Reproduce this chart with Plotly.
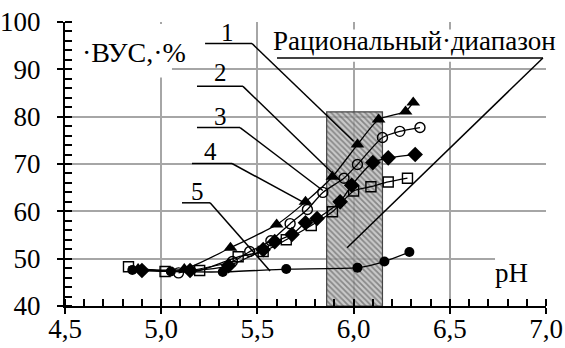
import plotly.graph_objects as go

# ---- data ----
ph_1 = [4.88, 5.12, 5.36, 5.60, 5.75, 5.89, 6.02, 6.13, 6.27, 6.31]
vus_1 = [47.8, 47.8, 52.3, 57.2, 62.0, 67.3, 74.1, 79.4, 81.1, 83.0]

ph_2 = [5.09, 5.37, 5.46, 5.57, 5.67, 5.76, 5.84, 5.95, 6.02, 6.15, 6.24, 6.345]
vus_2 = [47.0, 49.4, 51.5, 53.8, 57.4, 60.4, 64.0, 67.0, 69.9, 75.6, 76.9, 77.7]

ph_3 = [4.90, 5.15, 5.35, 5.53, 5.59, 5.68, 5.75, 5.81, 5.93, 5.99, 6.10, 6.18, 6.32]
vus_3 = [47.5, 47.5, 48.5, 51.9, 53.6, 55.1, 57.6, 58.5, 62.0, 65.5, 70.3, 71.3, 72.0]

ph_4 = [4.83, 5.02, 5.20, 5.40, 5.53, 5.65, 5.78, 5.89, 6.00, 6.09, 6.18, 6.28]
vus_4 = [48.3, 47.3, 47.5, 50.4, 51.5, 54.0, 57.0, 59.9, 64.3, 65.2, 66.2, 67.0]

ph_5 = [4.85, 5.05, 5.32, 5.65, 6.02, 6.16, 6.29]
vus_5 = [47.6, 47.3, 47.2, 47.8, 48.1, 49.4, 51.4]

range_ph = [5.86, 6.15]      # rational pH range
range_top = 81.0

x_ticks = [4.5, 5.0, 5.5, 6.0, 6.5, 7.0]
x_labels = ["4,5", "5,0", "5,5", "6,0", "6,5", "7,0"]
y_ticks = [40, 50, 60, 70, 80, 90, 100]
y_labels = ["40", "50", "60", "70", "80", "90", "100"]

series_names = ["1", "2", "3", "4", "5"]

FONT = "Liberation Serif"

fig = go.Figure()

styles = [
    dict(symbol="triangle-up", size=12, color="black"),
    dict(symbol="circle-open", size=10, color="black", line=dict(width=1.4, color="black")),
    dict(symbol="diamond", size=12, color="black"),
    dict(symbol="square-open", size=10, color="black", line=dict(width=1.4, color="black")),
    dict(symbol="circle", size=10, color="black"),
]
data = [(ph_1, vus_1), (ph_2, vus_2), (ph_3, vus_3), (ph_4, vus_4), (ph_5, vus_5)]
for (xs, ys), st, nm in zip(data, styles, series_names):
    fig.add_trace(go.Scatter(
        x=xs, y=ys, name=nm, mode="lines+markers",
        line=dict(color="black", width=1.3, shape="spline", smoothing=0.6),
        marker=st, hoverinfo="skip", showlegend=False, cliponaxis=False))

# hatched rational range drawn over the data
fig.add_trace(go.Bar(
    x=[(range_ph[0] + range_ph[1]) / 2], y=[range_top - 40], base=[40],
    width=[range_ph[1] - range_ph[0]],
    marker=dict(color="rgba(165,165,165,0.72)",
                line=dict(color="#444444", width=1.2),
                pattern=dict(shape="\\", size=4, solidity=0.45,
                             fgcolor="rgba(55,55,55,0.9)",
                             bgcolor="rgba(180,180,180,0.72)")),
    hoverinfo="skip", showlegend=False))

# dummy trace for the inner half of the major ticks
fig.add_trace(go.Scatter(x=[None], y=[None], xaxis="x2", yaxis="y2",
                         showlegend=False, hoverinfo="skip"))

shapes = []
# white boxes behind the text (cover grid)
for x0, x1, y0, y1 in [(4.5, 5.056, 88.3, 99.6), (5.566, 6.995, 91.6, 98.4),
                       (6.735, 7.01, 43.1, 50.6)]:
    shapes.append(dict(type="rect", xref="x", yref="y", x0=x0, x1=x1, y0=y0, y1=y1,
                       fillcolor="white", line=dict(width=0), layer="between"))

line_style = dict(color="black", width=1.5)
leaders = [
    # (underline x0, x1, y, leader end x, y)
    (5.228, 5.472, 95.45, 6.00, 74.8),
    (5.186, 5.425, 86.4, 5.93, 66.5),
    (5.186, 5.410, 77.7, 5.84, 64.4),
    (5.160, 5.368, 70.1, 5.745, 61.8),
    (5.108, 5.254, 61.8, 5.566, 47.4),
]
for x0, x1, y, ex, ey in leaders:
    shapes.append(dict(type="line", xref="x", yref="y", x0=x0, x1=x1, y0=y, y1=y, line=line_style))
    shapes.append(dict(type="line", xref="x", yref="y", x0=x1, x1=ex, y0=y, y1=ey, line=line_style))
shapes.append(dict(type="line", xref="x", yref="y", x0=5.602, x1=6.984, y0=92.4, y1=92.4, line=line_style))
shapes.append(dict(type="line", xref="x", yref="y", x0=6.984, x1=5.966, y0=92.4, y1=52.3, line=line_style))

annotations = []
label_pos = [(5.347, 97.8), (5.306, 89.3), (5.306, 80.0), (5.254, 72.6), (5.19, 64.2)]
for nm, (lx, ly) in zip(series_names, label_pos):
    annotations.append(dict(x=lx, y=ly, xref="x", yref="y", text=nm, showarrow=False,
                            font=dict(family=FONT, size=25, color="black")))
annotations.append(dict(x=6.315, y=96.0, xref="x", yref="y", text="Рациональный·диапазон",
                        showarrow=False, font=dict(family=FONT, size=27, color="black")))
annotations.append(dict(x=4.86, y=93.5, xref="x", yref="y", text="·ВУС,·%",
                        showarrow=False, font=dict(family=FONT, size=28, color="black")))
annotations.append(dict(x=6.823, y=47.0, xref="x", yref="y", text="pH",
                        showarrow=False, font=dict(family=FONT, size=27, color="black")))

grid = "#a6a6a6"
fig.update_layout(
    width=565, height=348,
    margin=dict(l=65, r=19, t=22, b=42),
    paper_bgcolor="white", plot_bgcolor="white",
    font=dict(family=FONT, size=27, color="black"),
    shapes=shapes, annotations=annotations, showlegend=False,
    xaxis=dict(range=[4.5, 7.0], tickvals=x_ticks, ticktext=x_labels,
               showgrid=True, gridcolor=grid, gridwidth=1.5,
               showline=True, linecolor="black", linewidth=2,
               ticks="outside", ticklen=6, tickwidth=2, tickcolor="black",
               minor=dict(dtick=0.1, ticks="inside", ticklen=7, tickwidth=1.5,
                          tickcolor="black", showgrid=False),
               zeroline=False, fixedrange=True, automargin=False,
               ticklabelstandoff=-8,
               tickfont=dict(family=FONT, size=27)),
    yaxis=dict(range=[40, 100], tickvals=y_ticks, ticktext=y_labels,
               showgrid=True, gridcolor=grid, gridwidth=1.5,
               showline=True, linecolor="black", linewidth=2,
               ticks="outside", ticklen=6, tickwidth=2, tickcolor="black",
               minor=dict(dtick=2, ticks="inside", ticklen=7, tickwidth=1.5,
                          tickcolor="black", showgrid=False),
               zeroline=False, fixedrange=True, ticklabelstandoff=11, automargin=False,
               tickfont=dict(family=FONT, size=27)),
    xaxis2=dict(range=[4.5, 7.0], overlaying="x", anchor="y", side="bottom",
                tickvals=x_ticks, showticklabels=False, ticks="inside", ticklen=6,
                tickwidth=2, tickcolor="black", showgrid=False, showline=False,
                zeroline=False, fixedrange=True, automargin=False),
    yaxis2=dict(range=[40, 100], overlaying="y", anchor="x", side="left",
                tickvals=y_ticks, showticklabels=False, ticks="inside", ticklen=6,
                tickwidth=2, tickcolor="black", showgrid=False, showline=False,
                zeroline=False, fixedrange=True, automargin=False),
)

fig.write_html("out.html")
